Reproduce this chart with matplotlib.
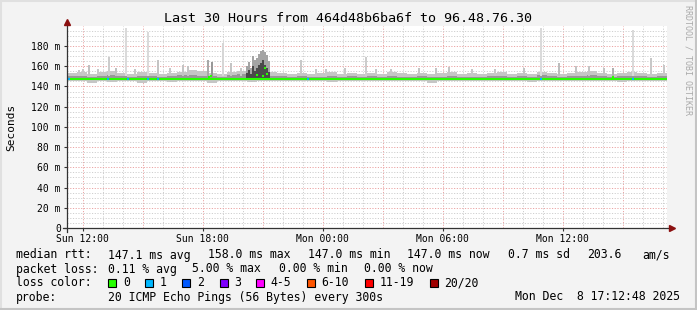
import numpy as np
from matplotlib import pyplot as plt
from matplotlib.patches import Rectangle
from matplotlib.lines import Line2D

plt.rcParams['font.family'] = ['DejaVu Sans Mono']

W, H = 697, 310

t_start = 11 + 12.8 / 60      # Sun 11:12:48, hours since Sun 00:00
t_end = t_start + 30          # Mon 17:12:48

# smoke band, 30 minute bins (ms)
smoke_top = [153, 154, 152, 154, 155, 153, 152, 154, 153, 152,
             153, 154, 156, 155, 153, 152, 154, 155, 153, 154,
             154, 153, 152, 153, 152, 153, 154, 152, 153, 152,
             153, 152, 154, 153, 152, 153, 152, 153, 154, 152,
             153, 152, 153, 154, 152, 153, 152, 154, 153, 152,
             153, 154, 155, 153, 152, 153, 154, 153, 152, 153]
smoke_mid = [150, 150, 149, 150, 151, 150, 149, 150, 150, 149,
             150, 151, 151, 150, 150, 149, 151, 152, 150, 150,
             150, 150, 149, 150, 149, 149, 150, 149, 150, 149,
             150, 149, 150, 149, 149, 150, 149, 149, 150, 149,
             149, 149, 150, 150, 149, 150, 149, 151, 150, 149,
             150, 150, 151, 150, 149, 150, 150, 150, 149, 150]
smoke_bot = [145, 145, 143, 145, 144, 145, 145, 143, 145, 145,
             144, 145, 145, 145, 143, 145, 145, 145, 144, 145,
             145, 145, 145, 145, 145, 145, 144, 145, 145, 145,
             145, 145, 145, 145, 145, 145, 143, 145, 145, 145,
             145, 145, 145, 145, 145, 145, 144, 145, 145, 145,
             145, 145, 145, 145, 145, 144, 145, 145, 145, 145]
median_ms = [147.0] * 60

# single-step outliers in the smoke (hour, top ms, gray)
spike_hours = [11.76, 11.96, 12.26, 12.71, 13.26, 13.61, 14.11, 14.56, 15.21, 15.71,
               16.31, 16.96, 17.21, 18.21, 18.41, 18.96, 19.36, 19.86, 22.86, 23.61,
               24.11, 25.06, 26.11, 26.61, 27.36, 28.76, 29.61, 30.26, 31.41, 32.56,
               34.01, 34.86, 35.76, 36.61, 37.26, 38.01, 38.46, 39.46, 40.36, 41.01]
spike_tops = [156, 157, 161, 157, 169, 158, 198, 157, 194, 166,
              158, 161, 160, 166, 164, 183, 163, 158, 166, 157,
              157, 158, 169, 157, 157, 158, 158, 159, 157, 157,
              158, 198, 163, 160, 160, 158, 158, 196, 168, 161]
spike_gray = ['#c8c8c8', '#c8c8c8', '#c0c0c0', '#c8c8c8', '#cccccc', '#c0c0c0', '#dadada',
              '#c8c8c8', '#dadada', '#c4c4c4', '#c8c8c8', '#c4c4c4', '#c4c4c4', '#a8a8a8',
              '#989898', '#d6d6d6', '#c4c4c4', '#c8c8c8', '#c8c8c8', '#c8c8c8', '#c8c8c8',
              '#c8c8c8', '#cccccc', '#c8c8c8', '#c8c8c8', '#c4c4c4', '#c4c4c4', '#c4c4c4',
              '#c8c8c8', '#c8c8c8', '#c4c4c4', '#dadada', '#bcbcbc', '#c4c4c4', '#c4c4c4',
              '#c4c4c4', '#b0b0b0', '#dadada', '#c8c8c8', '#c8c8c8']

# darker smoke cluster around Sun 20:30
dark_hours = [20.16, 20.26, 20.36, 20.46, 20.56, 20.66, 20.76, 20.86, 20.96, 21.06, 21.16, 21.26]
dark_outer = [160, 164, 158, 170, 166, 168, 172, 175, 176, 174, 171, 165]
dark_inner = [153, 156, 152, 160, 155, 158, 161, 163, 166, 161, 158, 154]

# median excursions (hour, ms)
bump_hours = [18.26, 18.36, 20.66, 20.96, 21.06, 21.16, 38.46]
bump_ms = [149, 150, 151, 150, 158, 152, 149]

# steps with packet loss (hour, lost pings)
loss_hours = [11.26, 13.21, 14.21, 15.21, 15.71, 23.21, 34.86, 39.46]
loss_count = [1, 1, 1, 1, 1, 1, 1, 1]

loss_labels = ['0', '1', '2', '3', '4-5', '6-10', '11-19', '20/20']
loss_colors = ['#26ff00', '#00b8ff', '#0059ff', '#7e00ff', '#ff00ff', '#ff5500', '#ff0000', '#a00000']

time_ticks = [12, 18, 24, 30, 36]
time_labels = ['Sun 12:00', 'Sun 18:00', 'Mon 00:00', 'Mon 06:00', 'Mon 12:00']
y_ticks = list(range(0, 200, 20))


def fx(px):
    return px / W


def fy(py):
    return 1 - py / H


fig = plt.figure(figsize=(W / 100, H / 100), dpi=100, facecolor='#f3f3f3')
ax = fig.add_axes([fx(67), fy(228), 600 / W, 202.2 / H])
ax.set_facecolor('white')
ax.set_xlim(t_start, t_end)
ax.set_ylim(0, 200)
for s in ax.spines.values():
    s.set_visible(False)

# grid
dots = (0, (1.2, 1.6))
for h in np.arange(12, 42):
    ax.axvline(h, color='#eba4a4' if h % 3 == 0 else '#cfcfcf', lw=0.7, ls=dots, zorder=0)
for v in np.arange(5, 200, 5):
    ax.axhline(v, color='#eba4a4' if v % 20 == 0 else '#cfcfcf', lw=0.7, ls=dots, zorder=0)

# smoke
edges = t_start + 0.5 * np.arange(61)
ax.fill_between(edges, smoke_bot + smoke_bot[-1:], smoke_top + smoke_top[-1:],
                step='post', color='#c6c6c6', lw=0, zorder=1)
ax.fill_between(edges, [146] * 61, smoke_mid + smoke_mid[-1:],
                step='post', color='#989898', lw=0, zorder=1)
step = 1 / 12
ax.bar(spike_hours, np.array(spike_tops) - 150, bottom=150, width=step, align='edge',
       color=spike_gray, lw=0, zorder=1)
ax.bar(dark_hours, np.array(dark_outer) - 148, bottom=148, width=step, align='edge',
       color='#a4a4a4', lw=0, zorder=2)
ax.bar(dark_hours, np.array(dark_inner) - 148, bottom=148, width=step, align='edge',
       color='#4a4a4a', lw=0, zorder=2)

# median rtt coloured by loss
ax.step(edges, median_ms + median_ms[-1:], where='post', color=loss_colors[0], lw=1.5, zorder=3)
ax.hlines(bump_ms, bump_hours, np.array(bump_hours) + step, color=loss_colors[0], lw=1.5, zorder=3)
ax.hlines([147] * len(loss_hours), loss_hours, np.array(loss_hours) + step,
          color=[loss_colors[c] for c in loss_count], lw=1.5, zorder=3)

# axes with arrows
ax.add_line(Line2D([0, 0], [-4 / 202, 1.02], transform=ax.transAxes, color='#333333', lw=0.9, clip_on=False, zorder=4))
ax.add_line(Line2D([-4 / 600, 1.008], [0, 0], transform=ax.transAxes, color='#333333', lw=0.9, clip_on=False, zorder=4))
ax.plot(0, 1.02, marker='^', ms=4, color='#8b1010', transform=ax.transAxes, clip_on=False, zorder=5)
ax.plot(1.008, 0, marker='>', ms=4, color='#8b1010', transform=ax.transAxes, clip_on=False, zorder=5)

ax.set_xticks(time_ticks, time_labels)
ax.set_yticks(y_ticks, ['0' if v == 0 else f'{v} m' for v in y_ticks])
ax.tick_params(length=2.5, width=0.8, color='#333333', labelsize=7, pad=2, labelcolor='black')

# texts
fig.text(fx(348.5), fy(19), 'Last 30 Hours from 464d48b6ba6f to 96.48.76.30',
         ha='center', va='center', fontsize=9.6)
fig.text(fx(11), fy(127), 'Seconds', rotation=90, ha='center', va='center', fontsize=8)
fig.text(fx(688), fy(60), 'RRDTOOL / TOBI OETIKER', rotation=-90, ha='center', va='center',
         fontsize=6, color='#aaaaaa')

fs = 8.3
rows = [
    (255, [(16, 'median rtt:'), (107.5, '147.1 ms avg'), (207.5, '158.0 ms max'),
           (307.5, '147.0 ms min'), (407.5, '147.0 ms now'), (507.5, '0.7 ms sd'),
           (586.7, '203.6'), (642, 'am/s')]),
    (269, [(16, 'packet loss:'), (107.5, '0.11 % avg'), (192.4, '5.00 % max'),
           (279, '0.00 % min'), (364.4, '0.00 % now')]),
    (283, [(16, 'loss color:')]),
    (297, [(16, 'probe:'), (107.5, '20 ICMP Echo Pings (56 Bytes) every 300s')]),
]
for y, items in rows:
    for x, s in items:
        fig.text(fx(x), fy(y), s, ha='left', va='center', fontsize=fs)
fig.text(fx(680), fy(297), 'Mon Dec  8 17:12:48 2025', ha='right', va='center', fontsize=fs)

box_x = [108.4, 145.3, 182.2, 219.6, 256, 307, 365.3, 430]
for bx, lab, col in zip(box_x, loss_labels, loss_colors):
    fig.patches.append(Rectangle((fx(bx), fy(287)), 8 / W, 8 / H, transform=fig.transFigure,
                                 facecolor=col, edgecolor='black', lw=0.8))
    fig.text(fx(bx + 14.5), fy(283), lab, ha='left', va='center', fontsize=fs)

# frame
fig.add_artist(Line2D([0, 1], [fy(0.5), fy(0.5)], color='#e0e0e0', lw=1.5))
fig.add_artist(Line2D([fx(0.5), fx(0.5)], [0, 1], color='#e0e0e0', lw=1.5))
fig.add_artist(Line2D([0, 1], [fy(309), fy(309)], color='#c4c4c4', lw=1.5))
fig.add_artist(Line2D([fx(696), fx(696)], [0, 1], color='#c4c4c4', lw=1.5))

fig.savefig('out.png', dpi=100, facecolor=fig.get_facecolor())
